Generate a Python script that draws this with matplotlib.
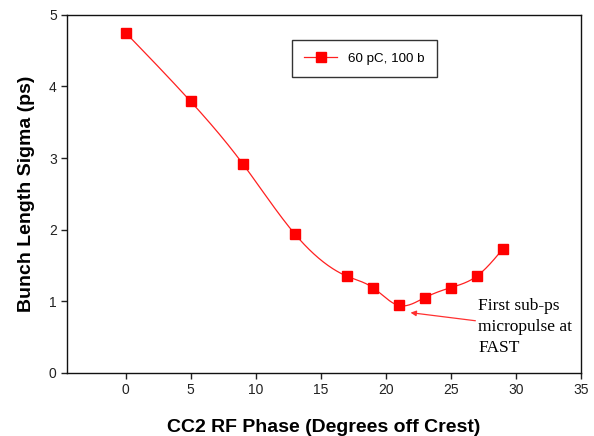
import numpy as np
import matplotlib.pyplot as plt

# phase (deg off crest) vs bunch length sigma (ps)
phase = [0, 5, 9, 13, 17, 19, 21, 23, 25, 27, 29]
sigma = [4.75, 3.79, 2.92, 1.94, 1.35, 1.19, 0.94, 1.05, 1.19, 1.35, 1.73]
label = "60 pC, 100 b"


def natural_spline(x, y, n=400):
    x = np.asarray(x, float)
    y = np.asarray(y, float)
    k = len(x)
    h = np.diff(x)
    A = np.zeros((k, k))
    b = np.zeros(k)
    A[0, 0] = A[-1, -1] = 1
    for i in range(1, k - 1):
        A[i, i - 1] = h[i - 1]
        A[i, i] = 2 * (h[i - 1] + h[i])
        A[i, i + 1] = h[i]
        b[i] = 6 * ((y[i + 1] - y[i]) / h[i] - (y[i] - y[i - 1]) / h[i - 1])
    M = np.linalg.solve(A, b)
    xs = np.linspace(x[0], x[-1], n)
    idx = np.clip(np.searchsorted(x, xs) - 1, 0, k - 2)
    x0, x1 = x[idx], x[idx + 1]
    hh = x1 - x0
    t0, t1 = x1 - xs, xs - x0
    ys = (M[idx] * t0**3 + M[idx + 1] * t1**3) / (6 * hh) \
        + (y[idx] / hh - M[idx] * hh / 6) * t0 \
        + (y[idx + 1] / hh - M[idx + 1] * hh / 6) * t1
    return xs, ys


fig = plt.figure(figsize=(5.94, 4.36), dpi=100)
ax = fig.add_axes([0.113, 0.145, 0.865, 0.821])

xs, ys = natural_spline(phase, sigma)
ax.plot(xs, ys, color="#ff2020", lw=0.9)
ax.plot(phase, sigma, ls="none", marker="s", ms=7, color="red")
# legend proxy
ax.plot([], [], color="#ff2020", lw=0.9, marker="s", ms=7, mfc="red", mec="red", label=label)

ax.set_xlim(-4.5, 35)
ax.set_ylim(0, 5)
ax.set_xticks([0, 5, 10, 15, 20, 25, 30, 35])
ax.set_yticks([0, 1, 2, 3, 4, 5])
ax.tick_params(direction="out", length=4, width=1, labelsize=10, colors="#222222",
               top=False, right=False)
for s in ax.spines.values():
    s.set_linewidth(1.0)
    s.set_color("#111111")

ax.set_xlabel("CC2 RF Phase (Degrees off Crest)", fontsize=14, fontweight="bold",
              family="Liberation Sans", labelpad=16)
ax.set_ylabel("Bunch Length Sigma (ps)", fontsize=14, fontweight="bold",
              family="Liberation Sans", labelpad=10)
for t in ax.get_xticklabels() + ax.get_yticklabels():
    t.set_family("Liberation Sans")

leg = ax.legend(loc="upper left", bbox_to_anchor=(0.425, 0.947),
                frameon=True, fancybox=False, handlelength=2.5, borderpad=0.9,
                prop={"family": "Liberation Sans", "size": 9.6})
leg.get_frame().set_edgecolor("black")
leg.get_frame().set_linewidth(1.0)

ax.annotate("First sub-ps\nmicropulse at\nFAST", xy=(21.9, 0.84), xytext=(27.1, 0.64),
            fontsize=12.5, family="Liberation Serif", va="center", ha="left",
            linespacing=1.45,
            arrowprops=dict(arrowstyle="-|>", color="#ff3030", lw=0.9,
                            mutation_scale=8, shrinkA=0, shrinkB=0))

fig.savefig("out.png", dpi=100)
